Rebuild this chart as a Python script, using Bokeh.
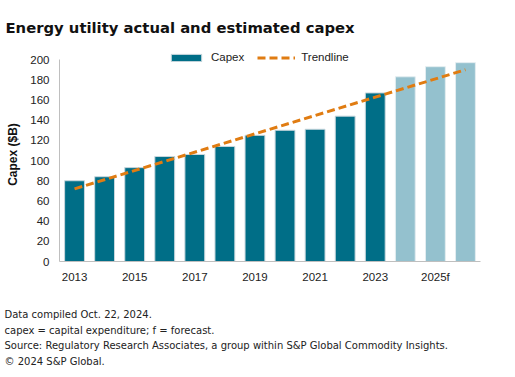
from bokeh.plotting import figure
from bokeh.layouts import column
from bokeh.models import ColumnDataSource, Legend, LegendItem, Label, FixedTicker, Range1d
from bokeh.embed import file_html
from bokeh.resources import INLINE

# ---- data ----
years = ["2013", "2014", "2015", "2016", "2017", "2018", "2019",
         "2020", "2021", "2022", "2023", "2024f", "2025f", "2026f"]
actual_capex = [80, 84, 93, 104, 106, 114, 125, 130, 131, 144, 167]
forecast_capex = [183, 193, 197]
trend_values = [72, 190]          # trendline at first and last year
shown_labels = ["2013", "2015", "2017", "2019", "2021", "2023", "2025f"]
y_ticks = [0, 20, 40, 60, 80, 100, 120, 140, 160, 180, 200]

title_text = "Energy utility actual and estimated capex"
notes = [
    "Data compiled Oct. 22, 2024.",
    "capex = capital expenditure; f = forecast.",
    "Source: Regulatory Research Associates, a group within S&P Global Commodity Insights.",
    "\u00a9 2024 S&P Global.",
]

TEAL = "#006E87"
LIGHT = "#94C1CE"
ORANGE = "#E07C12"
FONT = "Liberation Sans"
W = 515


def text_panel(height):
    f = figure(width=W, height=height, x_range=Range1d(0, 1), y_range=Range1d(0, 1),
               x_axis_type=None, y_axis_type=None, output_backend="svg",
               toolbar_location=None, min_border=0, frame_align=False)
    f.outline_line_color = None
    f.grid.visible = False
    return f


# ---- header ----
head = text_panel(38)
head.add_layout(Label(x=5, y=11, x_units="screen", y_units="screen", text=title_text,
                      text_font="DejaVu Sans", text_font_style="bold",
                      text_font_size="14.8px", text_color="#111111",
                      text_baseline="alphabetic"))

# ---- main chart ----
n_act = len(actual_capex)
x_all = list(range(len(years)))
x_act = x_all[:n_act]
x_fc = x_all[n_act:]

p = figure(width=W, height=257, x_range=(-0.5, len(years) - 0.5), y_range=(0, 212),
           output_backend="svg", toolbar_location=None,
           min_border_left=59, min_border_right=35, min_border_top=9,
           min_border_bottom=34)
p.outline_line_color = None
p.grid.visible = False

src_a = ColumnDataSource(dict(x=x_act, y=actual_capex))
src_f = ColumnDataSource(dict(x=x_fc, y=forecast_capex))
src_t = ColumnDataSource(dict(x=[x_all[0], x_all[-1]], y=trend_values))

r_a = p.vbar(x="x", top="y", width=0.66, source=src_a, fill_color=TEAL,
             line_color="#c9d7dd", line_width=1)
r_f = p.vbar(x="x", top="y", width=0.66, source=src_f, fill_color=LIGHT,
             line_color="#e3edf0", line_width=1)
r_t = p.line(x="x", y="y", source=src_t, line_color=ORANGE, line_width=3,
             line_dash="8 4")

p.yaxis.ticker = FixedTicker(ticks=y_ticks)
p.yaxis.bounds = (0, 200)
p.xaxis.ticker = FixedTicker(ticks=[years.index(s) for s in shown_labels])
p.xaxis.major_label_overrides = {years.index(s): s for s in shown_labels}
p.yaxis.axis_label = "Capex ($B)"
p.yaxis.axis_label_text_font = FONT
p.yaxis.axis_label_text_font_style = "bold"
p.yaxis.axis_label_text_font_size = "12px"
p.yaxis.axis_label_text_color = "#111111"
p.yaxis.axis_label_standoff = 7
for ax in (p.xaxis[0], p.yaxis[0]):
    ax.major_tick_in = 0
    ax.major_tick_out = 0
    ax.minor_tick_in = 0
    ax.minor_tick_out = 0
    ax.axis_line_color = "#bfbfbf"
    ax.axis_line_width = 1
    ax.major_label_text_font = FONT
    ax.major_label_text_font_size = "11.5px"
    ax.major_label_text_color = "#222222"
p.yaxis.major_label_standoff = 10
p.xaxis.major_label_standoff = 9

legend = Legend(items=[LegendItem(label="Capex", renderers=[r_a]),
                       LegendItem(label="Trendline", renderers=[r_t])],
                orientation="horizontal", location=(108, 197),
                glyph_width=38, glyph_height=9, label_height=14,
                label_standoff=6, spacing=13, padding=0, margin=0,
                border_line_color=None, background_fill_alpha=0,
                label_text_font=FONT, label_text_font_size="11.5px",
                label_text_color="#222222")
p.add_layout(legend, "center")

# ---- footer ----
foot = text_panel(82)
for txt, yy in zip(notes, [63, 47.5, 32, 16]):
    foot.add_layout(Label(x=4, y=yy, x_units="screen", y_units="screen", text=txt,
                          text_font="DejaVu Sans", text_font_size="10px",
                          text_color="#222222", text_baseline="alphabetic"))

layout = column(head, p, foot, spacing=0)
open("out.html", "w").write(file_html(layout, INLINE))
